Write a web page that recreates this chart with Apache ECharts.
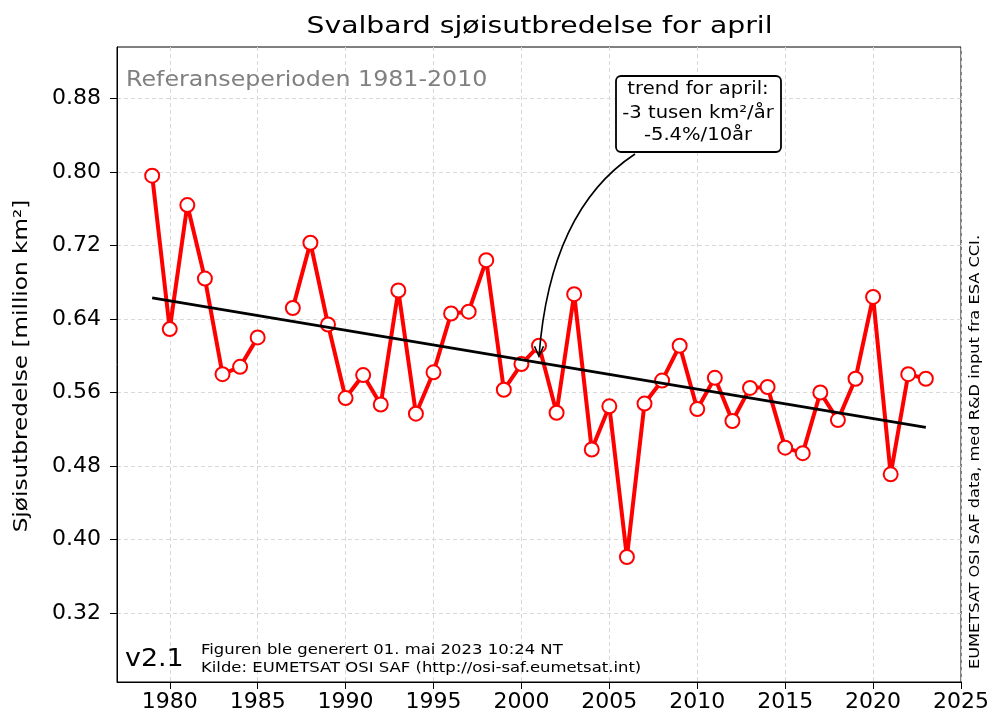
<!DOCTYPE html>
<html>
<head>
<meta charset="utf-8">
<script src="https://cdn.jsdelivr.net/npm/echarts@6/dist/echarts.min.js"></script>
<style>
  html, body { margin: 0; padding: 0; background: #fff; }
  #chart { width: 992px; height: 720px; }
</style>
</head>
<body>
<div id="chart"></div>
<script>
// ---- data ----
const years = [1979,1980,1981,1982,1983,1984,1985,1986,1987,1988,1989,1990,1991,1992,1993,1994,1995,1996,1997,1998,1999,2000,2001,2002,2003,2004,2005,2006,2007,2008,2009,2010,2011,2012,2013,2014,2015,2016,2017,2018,2019,2020,2021,2022,2023];
const extent = [0.796,0.629,0.764,0.684,0.580,0.588,0.620,null,0.652,0.723,0.634,0.554,0.579,0.547,0.671,0.537,0.582,0.646,0.648,0.704,0.563,0.591,0.611,0.538,0.667,0.498,0.545,0.381,0.548,0.573,0.611,0.542,0.576,0.529,0.565,0.566,0.500,0.494,0.560,0.530,0.575,0.664,0.471,0.580,0.575];
const trendYears = [1979, 2023];
const trendValues = [0.663, 0.522];
const xTicks = [1980,1985,1990,1995,2000,2005,2010,2015,2020,2025];
const yTicks = [0.32,0.40,0.48,0.56,0.64,0.72,0.80,0.88];
const yTickLabels = ['0.32','0.40','0.48','0.56','0.64','0.72','0.80','0.88'];
const arrowTarget = [2001, 0.5995];

const FONT = 'DejaVu Sans';
const chart = echarts.init(document.getElementById('chart'), null, {renderer: 'canvas'});

const seriesData = years.map((y, i) => [y, extent[i]]);
const trendData = trendYears.map((y, i) => [y, trendValues[i]]);

chart.setOption({
  animation: false,
  backgroundColor: '#fff',
  grid: { left: 117, right: 30, top: 47, bottom: 38, show: true, borderColor: '#000', borderWidth: 1, backgroundColor: 'transparent' },
  xAxis: {
    type: 'value', min: 1977, max: 2025,
    axisLine: { show: true, lineStyle: { color: '#000', width: 1 } },
    axisTick: { show: true, inside: false, length: 7, lineStyle: { color: '#000', width: 1 }, customValues: xTicks },
    axisLabel: { color: '#000', fontFamily: FONT, fontSize: 22, margin: 9, customValues: xTicks, formatter: v => String(v) },
    splitLine: { show: true, lineStyle: { color: '#d9d9d9', width: 1, type: [4, 3] } }
  },
  yAxis: {
    type: 'value', min: 0.245, max: 0.936,
    axisLine: { show: true, lineStyle: { color: '#000', width: 1 } },
    axisTick: { show: true, inside: false, length: 7, lineStyle: { color: '#000', width: 1 }, customValues: yTicks },
    axisLabel: { color: '#000', fontFamily: FONT, fontSize: 22, margin: 16, customValues: yTicks,
      formatter: v => { const i = yTicks.findIndex(t => Math.abs(t - v) < 1e-6); return i >= 0 ? yTickLabels[i] : ''; } },
    splitLine: { show: true, lineStyle: { color: '#d9d9d9', width: 1, type: [4, 3] } }
  },
  series: [
    {
      type: 'line', data: seriesData, connectNulls: false,
      symbol: 'circle', symbolSize: 14, showAllSymbol: true,
      lineStyle: { color: '#ff0000', width: 4 },
      itemStyle: { color: '#ffffff', borderColor: '#ff0000', borderWidth: 2 },
      emphasis: { disabled: true }, z: 2
    },
    {
      type: 'line', data: trendData, symbol: 'none',
      lineStyle: { color: '#000', width: 2.8 },
      emphasis: { disabled: true }, z: 3
    }
  ]
});

const tip = chart.convertToPixel({ gridIndex: 0 }, arrowTarget);
const start = [635, 154];

chart.setOption({
  graphic: [
    { type: 'text', x: 539.5, y: 27, scaleX: 1.23, z: 10,
      style: { text: 'Svalbard sjøisutbredelse for april', fontFamily: FONT, fontSize: 23, fill: '#000', textAlign: 'center', textVerticalAlign: 'middle' } },
    { type: 'text', x: 126, y: 81, scaleX: 1.13, z: 10,
      style: { text: 'Referanseperioden 1981-2010', fontFamily: FONT, fontSize: 21, fill: '#808080', textAlign: 'left', textVerticalAlign: 'middle' } },
    { type: 'text', x: 22, y: 366, rotation: Math.PI / 2, scaleX: 1.22, z: 10,
      style: { text: 'Sjøisutbredelse [million km²]', fontFamily: FONT, fontSize: 19, fill: '#000', textAlign: 'center', textVerticalAlign: 'middle' } },
    { type: 'text', x: 975, y: 452, rotation: Math.PI / 2, scaleX: 1.2, z: 10,
      style: { text: 'EUMETSAT OSI SAF data, med R&D input fra ESA CCI.', fontFamily: FONT, fontSize: 13.5, fill: '#000', textAlign: 'center', textVerticalAlign: 'middle' } },
    { type: 'text', x: 125, y: 660, scaleX: 1.12, z: 10,
      style: { text: 'v2.1', fontFamily: FONT, fontSize: 24, fill: '#000', textAlign: 'left', textVerticalAlign: 'middle' } },
    { type: 'text', x: 201, y: 650, scaleX: 1.12, z: 10,
      style: { text: 'Figuren ble generert 01. mai 2023 10:24 NT', fontFamily: FONT, fontSize: 14.7, fill: '#000', textAlign: 'left', textVerticalAlign: 'middle' } },
    { type: 'text', x: 201, y: 668, scaleX: 1.12, z: 10,
      style: { text: 'Kilde: EUMETSAT OSI SAF (http://osi-saf.eumetsat.int)', fontFamily: FONT, fontSize: 14.7, fill: '#000', textAlign: 'left', textVerticalAlign: 'middle' } },
    { type: 'rect', z: 10,
      shape: { x: 616, y: 76, width: 165, height: 76, r: 5 },
      style: { fill: '#fff', stroke: '#000', lineWidth: 1.8 } },
    { type: 'text', x: 698, y: 90, scaleX: 1.15, z: 11,
      style: { text: 'trend for april:', fontFamily: FONT, fontSize: 17, fill: '#000', textAlign: 'center', textVerticalAlign: 'middle' } },
    { type: 'text', x: 698, y: 114, scaleX: 1.15, z: 11,
      style: { text: '-3 tusen km²/år', fontFamily: FONT, fontSize: 17, fill: '#000', textAlign: 'center', textVerticalAlign: 'middle' } },
    { type: 'text', x: 698, y: 136, scaleX: 1.15, z: 11,
      style: { text: '-5.4%/10år', fontFamily: FONT, fontSize: 17, fill: '#000', textAlign: 'center', textVerticalAlign: 'middle' } },
    { type: 'bezierCurve', z: 11,
      shape: { x1: start[0], y1: start[1], x2: tip[0], y2: tip[1], cpx1: tip[0] + 11, cpy1: 210 },
      style: { stroke: '#000', lineWidth: 1.6, fill: null } },
    { type: 'polyline', z: 11,
      shape: { points: [[tip[0] - 4.5, tip[1] - 10], [tip[0], tip[1]], [tip[0] + 4.5, tip[1] - 10]] },
      style: { stroke: '#000', lineWidth: 1.6, fill: null } }
  ]
});
</script>
</body>
</html>
